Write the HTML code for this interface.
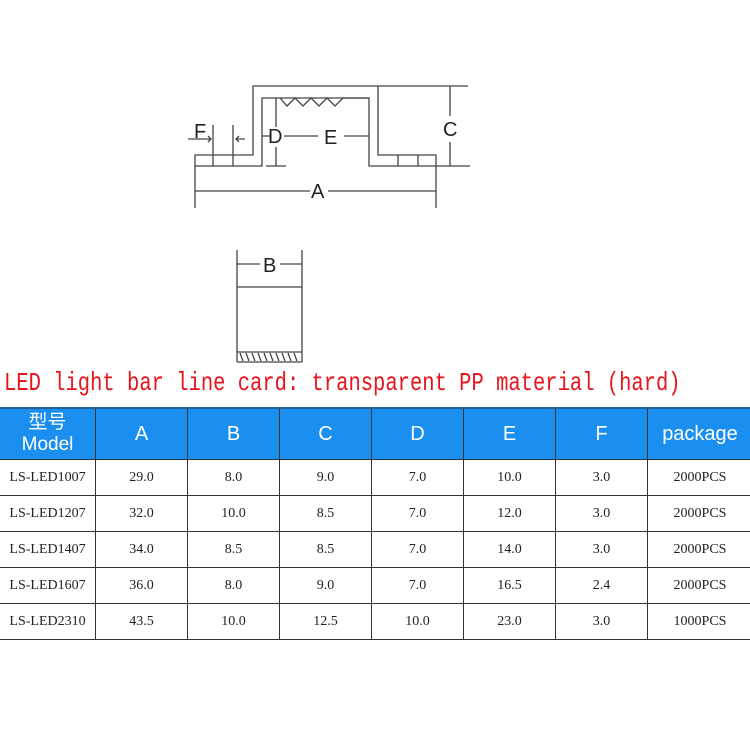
<!DOCTYPE html><html><head><style>
body{margin:0;width:750px;height:750px;background:#fff;position:relative;overflow:hidden}
.t{position:absolute;left:4px;top:370px;font:20.5px "Liberation Mono",monospace;color:#e8141c;white-space:nowrap;transform:scaleY(1.25);transform-origin:0 0}
table{position:absolute;left:-1px;top:407px;border-collapse:collapse;table-layout:fixed;width:753px}
td{border:1.5px solid #333;text-align:center;font:14px "Liberation Serif","Noto Serif CJK SC",serif;color:#222;height:35px;padding:0}
tr.h td{background:#1a8ff0;color:#fff;font:20px "Liberation Sans","Noto Sans CJK SC",sans-serif;height:50px;border-top:2px solid #1f5f9a}
</style></head><body>
<svg width="750" height="370" style="position:absolute;left:0;top:0" fill="none" stroke="#444" stroke-width="1.3">
<path d="M195 155H253V86H378V155H436V166H369V98H262V166H195Z"/>
<path d="M378 86H468M436 166H470M450 86V116M450 142V166"/>
<path d="M213 155V166M233 155V166M398 155V166M418 155V166"/>
<path d="M213 125V155M233 125V155M188 139H211M208 136L211 139L208 142M245 139H236M239 136L236 139L239 142"/>
<path d="M276 98V127M276 147V166M266 166H286M262 136H270M284 136H318M344 136H369"/>
<path d="M280 98L287 106L295 98L303 106L311 98L319 106L327 98L335 106L343 98L351 98H369"/>
<path d="M195 166V208M436 166V208M195 191H310M328 191H436"/>
<path d="M237 250V362M302 250V362M237 264H260M280 264H302M237 287H302M237 352H302M237 362H302"/>
<path d="M240 353L243 361M246 353L249 361M252 353L255 361M258 353L261 361M264 353L267 361M270 353L273 361M276 353L279 361M282 353L285 361M288 353L291 361M294 353L297 361"/>
<g fill="#222" stroke="none" font-family="Liberation Sans,sans-serif" font-size="20">
<text x="194" y="138">F</text><text x="268" y="143">D</text><text x="324" y="144">E</text><text x="443" y="136">C</text><text x="311" y="198">A</text><text x="263" y="272">B</text></g>
</svg>
<div class="t">LED light bar line card: transparent PP material (hard)</div>
<table>
<colgroup><col style="width:96px"><col style="width:92px"><col style="width:92px"><col style="width:92px"><col style="width:92px"><col style="width:92px"><col style="width:92px"><col style="width:105px"></colgroup>
<tr class="h"><td style="line-height:22px;font-size:19px">型号<br>Model</td><td>A</td><td>B</td><td>C</td><td>D</td><td>E</td><td>F</td><td>package</td></tr>
<tr><td>LS-LED1007</td><td>29.0</td><td>8.0</td><td>9.0</td><td>7.0</td><td>10.0</td><td>3.0</td><td>2000PCS</td></tr>
<tr><td>LS-LED1207</td><td>32.0</td><td>10.0</td><td>8.5</td><td>7.0</td><td>12.0</td><td>3.0</td><td>2000PCS</td></tr>
<tr><td>LS-LED1407</td><td>34.0</td><td>8.5</td><td>8.5</td><td>7.0</td><td>14.0</td><td>3.0</td><td>2000PCS</td></tr>
<tr><td>LS-LED1607</td><td>36.0</td><td>8.0</td><td>9.0</td><td>7.0</td><td>16.5</td><td>2.4</td><td>2000PCS</td></tr>
<tr><td>LS-LED2310</td><td>43.5</td><td>10.0</td><td>12.5</td><td>10.0</td><td>23.0</td><td>3.0</td><td>1000PCS</td></tr>
</table>
</body></html>
